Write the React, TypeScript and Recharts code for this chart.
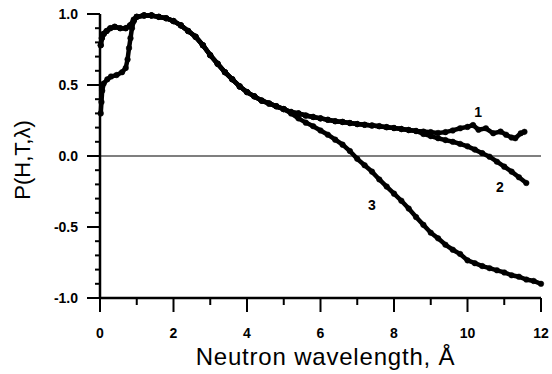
import React from 'react'
import { Label, Line, LineChart, ReferenceDot, ReferenceLine, XAxis, YAxis } from 'recharts'

// wavelength (Å) / polarisation readings
const headX12 = [0.02, 0.05, 0.1, 0.18, 0.28, 0.4, 0.55, 0.7, 0.82, 0.92, 1.0]
const head12 = [0.78, 0.83, 0.86, 0.88, 0.9, 0.91, 0.9, 0.9, 0.92, 0.96, 0.98]

const headX3 = [0.02, 0.04, 0.06, 0.1, 0.2, 0.3, 0.45, 0.6, 0.7, 0.75, 0.79, 0.83, 0.87, 0.92, 1.0]
const head3 = [0.3, 0.38, 0.46, 0.51, 0.54, 0.56, 0.57, 0.59, 0.62, 0.68, 0.76, 0.83, 0.9, 0.95, 0.98]

const sharedX = [1.2, 1.4, 1.6, 1.8, 2.0, 2.2, 2.4, 2.6, 2.8, 3.0, 3.2, 3.4, 3.6, 3.8, 4.0, 4.2, 4.4, 4.6, 4.8, 5.0]
const shared = [0.99, 0.99, 0.98, 0.97, 0.95, 0.92, 0.88, 0.84, 0.78, 0.71, 0.65, 0.59, 0.54, 0.49, 0.45, 0.42, 0.39, 0.37, 0.35, 0.33]

const midX12 = [5.2, 5.4, 5.6, 5.8, 6.0, 6.2, 6.4, 6.6, 6.8, 7.0, 7.2, 7.4, 7.6, 7.8, 8.0, 8.2, 8.4, 8.6]
const mid12 = [0.31, 0.3, 0.285, 0.275, 0.265, 0.255, 0.245, 0.24, 0.232, 0.225, 0.22, 0.215, 0.21, 0.203, 0.197, 0.19, 0.183, 0.176]

const tailX1 = [8.8, 9.0, 9.2, 9.4, 9.6, 9.8, 10.0, 10.15, 10.3, 10.5, 10.7, 10.9, 11.05, 11.2, 11.3, 11.45, 11.55]
const tail1 = [0.172, 0.168, 0.162, 0.168, 0.18, 0.195, 0.205, 0.218, 0.185, 0.195, 0.16, 0.172, 0.15, 0.13, 0.125, 0.16, 0.17]

const tailX2 = [8.8, 9.0, 9.2, 9.4, 9.6, 9.8, 10.0, 10.2, 10.4, 10.6, 10.8, 11.0, 11.2, 11.4, 11.6]
const tail2 = [0.155, 0.14, 0.125, 0.112, 0.1, 0.085, 0.068, 0.045, 0.02, -0.005, -0.04, -0.075, -0.11, -0.15, -0.19]

const tailX3 = [5.2, 5.4, 5.6, 5.8, 6.0, 6.2, 6.4, 6.6, 6.8, 7.0, 7.2, 7.4, 7.6, 7.8, 8.0, 8.2, 8.4, 8.6, 8.8, 9.0, 9.2, 9.4, 9.6, 9.8, 10.0, 10.2, 10.4, 10.6, 10.8, 11.0, 11.2, 11.4, 11.6, 11.8, 12.0]
const tail3 = [0.3, 0.265, 0.235, 0.21, 0.18, 0.15, 0.115, 0.08, 0.035, -0.02, -0.065, -0.11, -0.165, -0.215, -0.265, -0.315, -0.37, -0.43, -0.485, -0.54, -0.58, -0.625, -0.66, -0.69, -0.735, -0.755, -0.775, -0.79, -0.805, -0.82, -0.84, -0.85, -0.87, -0.88, -0.9]

const xTicks = [0, 1, 2, 3, 4, 5, 6, 7, 8, 9, 10, 11, 12]
const yTicks = [-1, -0.9, -0.8, -0.7, -0.6, -0.5, -0.4, -0.3, -0.2, -0.1, 0, 0.1, 0.2, 0.3, 0.4, 0.5, 0.6, 0.7, 0.8, 0.9, 1]

const curveLabels = [
  { x: 10.29, y: 0.31, text: '1' },
  { x: 10.88, y: -0.218, text: '2' },
  { x: 7.4, y: -0.345, text: '3' },
]

const pts = (xs: number[], ys: number[]) => xs.map((x, i) => ({ x, y: ys[i] }))

const curve1 = [...pts(headX12, head12), ...pts(sharedX, shared), ...pts(midX12, mid12), ...pts(tailX1, tail1)]
const curve2 = [...pts(headX12, head12), ...pts(sharedX, shared), ...pts(midX12, mid12), ...pts(tailX2, tail2)]
const curve3 = [...pts(headX3, head3), ...pts(sharedX, shared), ...pts(tailX3, tail3)]

const FONT = '"Liberation Sans", Arial, sans-serif'

const XTick = (props: any) => {
  const { x, y, payload } = props
  const major = payload.value % 2 === 0
  return (
    <g>
      <line x1={x} x2={x} y1={y} y2={y + (major ? 14 : 7)} stroke="#000" strokeWidth={2} />
      {major && (
        <text x={x} y={y + 40} textAnchor="middle" fontSize={14} fontWeight="bold" fontFamily={FONT} fill="#000">
          {payload.value}
        </text>
      )}
    </g>
  )
}

const YTick = (props: any) => {
  const { x, y, payload } = props
  const v = payload.value
  const major = Math.abs(v * 2 - Math.round(v * 2)) < 1e-6
  return (
    <g>
      <line x1={x - (major ? 13 : 5)} x2={x} y1={y} y2={y} stroke="#000" strokeWidth={2} />
      {major && (
        <text x={x - 22} y={y + 5} textAnchor="end" fontSize={14} fontWeight="bold" fontFamily={FONT} fill="#000">
          {v.toFixed(1)}
        </text>
      )}
    </g>
  )
}

const series = [curve1, curve2, curve3]

export default function App() {
  return (
    <div style={{ position: 'absolute', left: 0, top: 0, background: '#fff' }}>
      <LineChart width={552} height={374} margin={{ top: 14, right: 11, bottom: 0, left: 0 }}>
        <XAxis
          type="number"
          dataKey="x"
          domain={[0, 12]}
          ticks={xTicks}
          interval={0}
          tickSize={0}
          tickMargin={0}
          tickLine={false}
          tick={<XTick />}
          height={76}
          axisLine={{ stroke: '#000', strokeWidth: 2.5 }}
        >
          <Label
            content={({ viewBox }: any) => (
              <text
                x={viewBox.x + viewBox.width / 2 + 5}
                y={viewBox.y + 67}
                textAnchor="middle"
                fontSize={24}
                letterSpacing={0.8}
                fontFamily={FONT}
                fill="#000"
              >
                Neutron wavelength, Å
              </text>
            )}
          />
        </XAxis>
        <YAxis
          type="number"
          domain={[-1, 1]}
          ticks={yTicks}
          interval={0}
          tickSize={0}
          tickMargin={0}
          tickLine={false}
          tick={<YTick />}
          width={100}
          axisLine={{ stroke: '#000', strokeWidth: 2.5 }}
        >
          <Label
            content={({ viewBox }: any) => {
              const cx = 30
              const cy = viewBox.y + viewBox.height / 2 + 4
              return (
                <text
                  x={cx}
                  y={cy}
                  transform={`rotate(-90 ${cx} ${cy})`}
                  textAnchor="middle"
                  fontSize={22}
                  fontFamily={FONT}
                  fill="#000"
                >
                  P(H,T,λ)
                </text>
              )
            }}
          />
        </YAxis>
        <ReferenceLine y={0} stroke="#000" strokeWidth={1.2} />
        {series.map((d, i) => (
          <Line
            key={i}
            data={d}
            dataKey="y"
            type="linear"
            stroke="#000"
            strokeWidth={4.5}
            dot={{ r: 2.8, fill: '#000', stroke: '#000', strokeWidth: 0.5 }}
            isAnimationActive={false}
          />
        ))}
        {curveLabels.map((c) => (
          <ReferenceDot
            key={c.text}
            x={c.x}
            y={c.y}
            r={0}
            stroke="none"
            label={{ value: c.text, position: 'center', fontSize: 14, fontWeight: 'bold', fill: '#000', fontFamily: FONT }}
          />
        ))}
      </LineChart>
    </div>
  )
}
